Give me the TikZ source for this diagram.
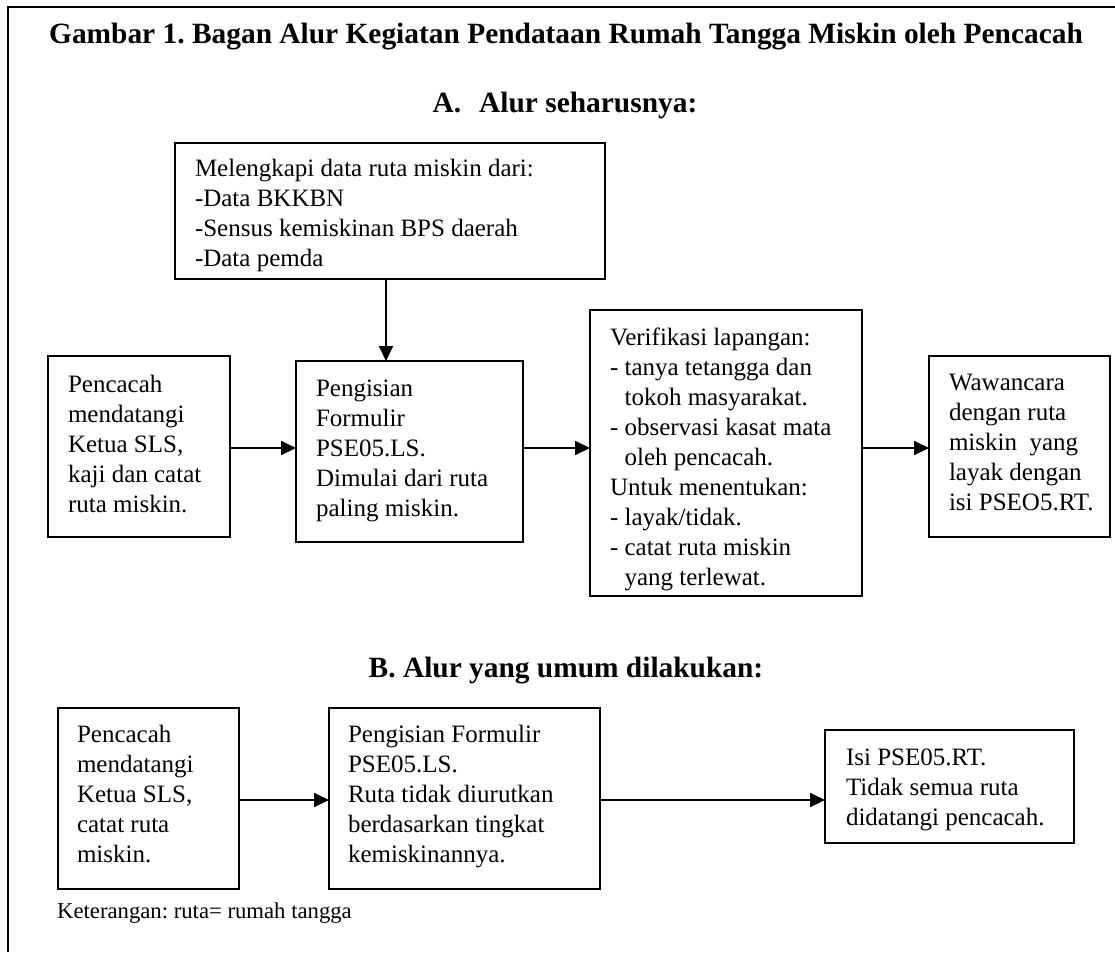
\documentclass[tikz,border=0pt]{standalone}
\usepackage{fontspec}
\setmainfont{Liberation Serif}
\usetikzlibrary{arrows.meta}
\frenchspacing
\newcommand{\bodyfont}{\fontsize{25}{30}\selectfont\frenchspacing}
\newcommand{\headfont}{\fontsize{29.4}{34}\selectfont\bfseries\frenchspacing}
\newcommand{\notefont}{\fontsize{22.7}{26}\selectfont\frenchspacing}
\newcommand{\ind}{\phantom{-}\ }
\tikzset{
  box/.style={draw, line width=2pt, inner sep=0pt, outer sep=0pt, anchor=north west},
  txt/.style={anchor=base west, align=left, inner sep=0pt, outer sep=0pt, font=\bodyfont},
  head/.style={anchor=base, inner sep=0pt, font=\headfont},
  arr/.style={line width=2pt, -{Triangle[length=15pt,width=14pt]}},
  frame/.style={line width=2pt}
}
\begin{document}
\begin{tikzpicture}[x=1pt,y=-1pt]
\useasboundingbox (0,0) rectangle (1115,952);
% frame (top and left edges)
\draw[frame] (1115,7) -- (8,7) -- (8,952);
% headings
\node[head] (title) at (566,44) {Gambar 1. Bagan Alur Kegiatan Pendataan Rumah Tangga Miskin oleh Pencacah};
\node[head] (headA) at (565,113) {A.\hspace{18pt}Alur seharusnya:};
\node[head] (headB) at (566,677) {B. Alur yang umum dilakukan:};
% section A boxes
\node[box, minimum width=430pt, minimum height=136pt] (top) at (175,143) {};
\node[box, minimum width=182pt, minimum height=181pt] (b1) at (48,356) {};
\node[box, minimum width=227pt, minimum height=181pt] (b2) at (296,361) {};
\node[box, minimum width=272pt, minimum height=286pt] (b3) at (590,310) {};
\node[box, minimum width=181pt, minimum height=181pt] (b4) at (929,356) {};
% section A texts (anchored at the baseline of the last line)
\node[txt] (ttop) at (195,266) {Melengkapi data ruta miskin dari:\\-Data BKKBN\\-Sensus kemiskinan BPS daerah\\-Data pemda};
\node[txt] (t1) at (68,512) {Pencacah\\mendatangi\\Ketua SLS,\\kaji dan catat\\ruta miskin.};
\node[txt] (t2) at (316,516) {Pengisian\\Formulir\\PSE05.LS.\\Dimulai dari ruta\\paling miskin.};
\node[txt] (t3) at (610,585) {Verifikasi lapangan:\\- tanya tetangga dan\\\ind tokoh masyarakat.\\- observasi kasat mata\\\ind oleh pencacah.\\Untuk menentukan:\\- layak/tidak.\\- catat ruta miskin\\\ind yang terlewat.};
\node[txt] (t4) at (949,510) {Wawancara\\dengan ruta\\miskin\ \ yang\\layak dengan\\isi PSEO5.RT.};
% section A connectors
\coordinate (ax) at (386,0);
\coordinate (ay) at (0,448);
\draw[arr] (top.south -| ax) -- (b2.north -| ax);
\draw[arr] (b1.east |- ay) -- (b2.west |- ay);
\draw[arr] (b2.east |- ay) -- (b3.west |- ay);
\draw[arr] (b3.east |- ay) -- (b4.west |- ay);
% section B boxes
\node[box, minimum width=181pt, minimum height=181pt] (c1) at (58,708) {};
\node[box, minimum width=271pt, minimum height=181pt] (c2) at (329,708) {};
\node[box, minimum width=249pt, minimum height=113pt] (c3) at (825,730) {};
% section B texts
\node[txt] (u1) at (77,862) {Pencacah\\mendatangi\\Ketua SLS,\\catat ruta\\miskin.};
\node[txt] (u2) at (348,862) {Pengisian Formulir\\PSE05.LS.\\Ruta tidak diurutkan\\berdasarkan tingkat\\kemiskinannya.};
\node[txt] (u3) at (846,825) {Isi PSE05.RT.\\Tidak semua ruta\\didatangi pencacah.};
% section B connectors
\coordinate (by) at (0,800);
\draw[arr] (c1.east |- by) -- (c2.west |- by);
\draw[arr] (c2.east |- by) -- (c3.west |- by);
% note
\node[anchor=base west, inner sep=0pt, font=\notefont] (note) at (57,918) {Keterangan: ruta= rumah tangga};
\end{tikzpicture}
\end{document}
